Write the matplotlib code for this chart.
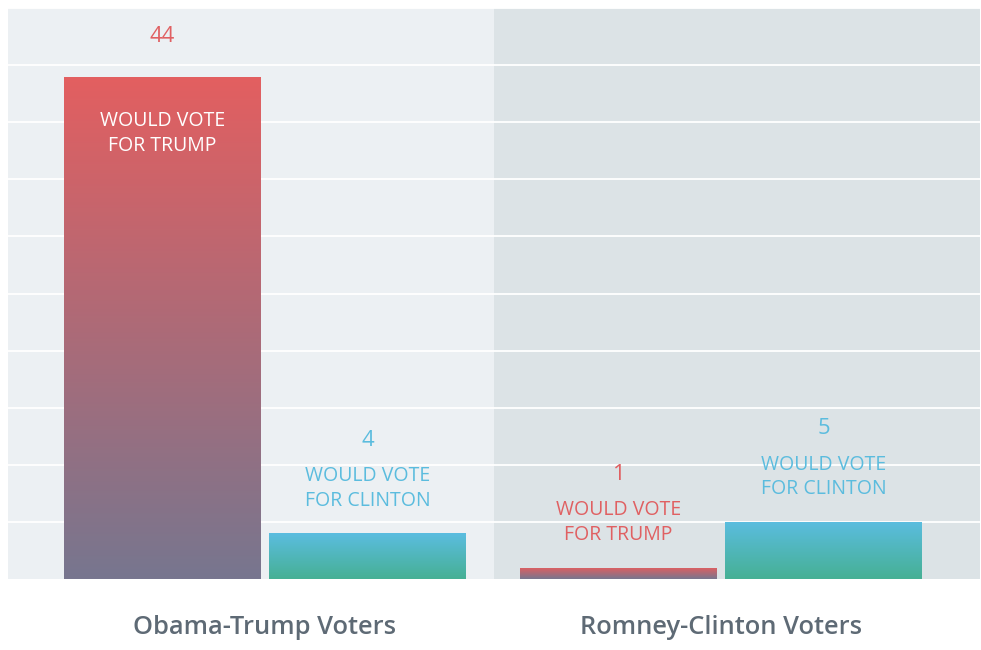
import numpy as np
import matplotlib
matplotlib.use("Agg")
import matplotlib.pyplot as plt
from matplotlib.colors import LinearSegmentedColormap

# Data
groups = ["Obama-Trump Voters", "Romney-Clinton Voters"]
trump_values = [44, 1]
clinton_values = [4, 5]
trump_label = "WOULD VOTE\nFOR TRUMP"
clinton_label = "WOULD VOTE\nFOR CLINTON"

# Colours
RED_TOP, RED_BOTTOM = "#E35F60", "#77768F"
BLUE_TOP, BLUE_BOTTOM = "#5BBDE0", "#46B094"
RED_TEXT, BLUE_TEXT = "#E06062", "#5BBCDE"
LEFT_BG, RIGHT_BG = "#ECF0F3", "#DCE3E6"
CAT_TEXT = "#5E6A75"

plt.rcParams["font.family"] = ["Open Sans", "DejaVu Sans"]

DPI = 72
fig = plt.figure(figsize=(981 / DPI, 650 / DPI), dpi=DPI, facecolor="white")
ax = fig.add_axes([8 / 981, 71 / 650, 972 / 981, 571 / 650])

x_lo, x_hi = -0.5636, 1.568
divider = 0.502
ax.set_xlim(x_lo, x_hi)
ax.set_ylim(0, 50)
ax.axvspan(x_lo, divider, color=LEFT_BG, zorder=0, lw=0)
ax.axvspan(divider, x_hi, color=RIGHT_BG, zorder=0, lw=0)
for y in range(5, 51, 5):
    ax.axhline(y, color="white", lw=1.8, zorder=1)

for s in ax.spines.values():
    s.set_visible(False)
ax.set_xticks([])
ax.set_yticks([])

bar_w = 0.432
offset = 0.2248
x = np.arange(len(groups))


def gradient_bar(xc, h, top, bottom):
    bars = ax.bar(xc, h, width=bar_w, color="none", lw=0, zorder=2)
    patch = bars[0]
    cmap = LinearSegmentedColormap.from_list("g", [bottom, top])
    grad = np.linspace(0, 1, 256).reshape(-1, 1)
    im = ax.imshow(grad, cmap=cmap, aspect="auto", origin="lower",
                   extent=[xc - bar_w / 2, xc + bar_w / 2, 0, h], zorder=2)
    im.set_clip_path(patch)
    return patch


def label_bar(xc, h, value, text, color, inside):
    if inside:
        ax.annotate(str(value), (xc, h), xytext=(0, 40), textcoords="offset points",
                    ha="center", va="center", fontsize=22, color=color,
                    fontweight="medium", zorder=4)
        ax.annotate(text, (xc, h), xytext=(0, -57), textcoords="offset points",
                    ha="center", va="center", fontsize=19.5, color="white",
                    linespacing=1.3, zorder=4)
    else:
        ax.annotate(str(value), (xc, h), xytext=(0, 93), textcoords="offset points",
                    ha="center", va="center", fontsize=22, color=color,
                    fontweight="medium", zorder=4)
        ax.annotate(text, (xc, h), xytext=(0, 45), textcoords="offset points",
                    ha="center", va="center", fontsize=19.5, color=color,
                    linespacing=1.3, zorder=4)


for i in x:
    xt = i - offset
    xc = i + offset
    gradient_bar(xt, trump_values[i], RED_TOP, RED_BOTTOM)
    gradient_bar(xc, clinton_values[i], BLUE_TOP, BLUE_BOTTOM)
    label_bar(xt, trump_values[i], trump_values[i], trump_label, RED_TEXT,
              inside=trump_values[i] > 20)
    label_bar(xc, clinton_values[i], clinton_values[i], clinton_label, BLUE_TEXT,
              inside=clinton_values[i] > 20)
    ax.annotate(groups[i], (i, 0), xytext=(0, -48), textcoords="offset points",
                ha="center", va="center", fontsize=25.5, color=CAT_TEXT,
                fontweight="semibold", annotation_clip=False)

fig.savefig("out.png", dpi=DPI, facecolor="white")
